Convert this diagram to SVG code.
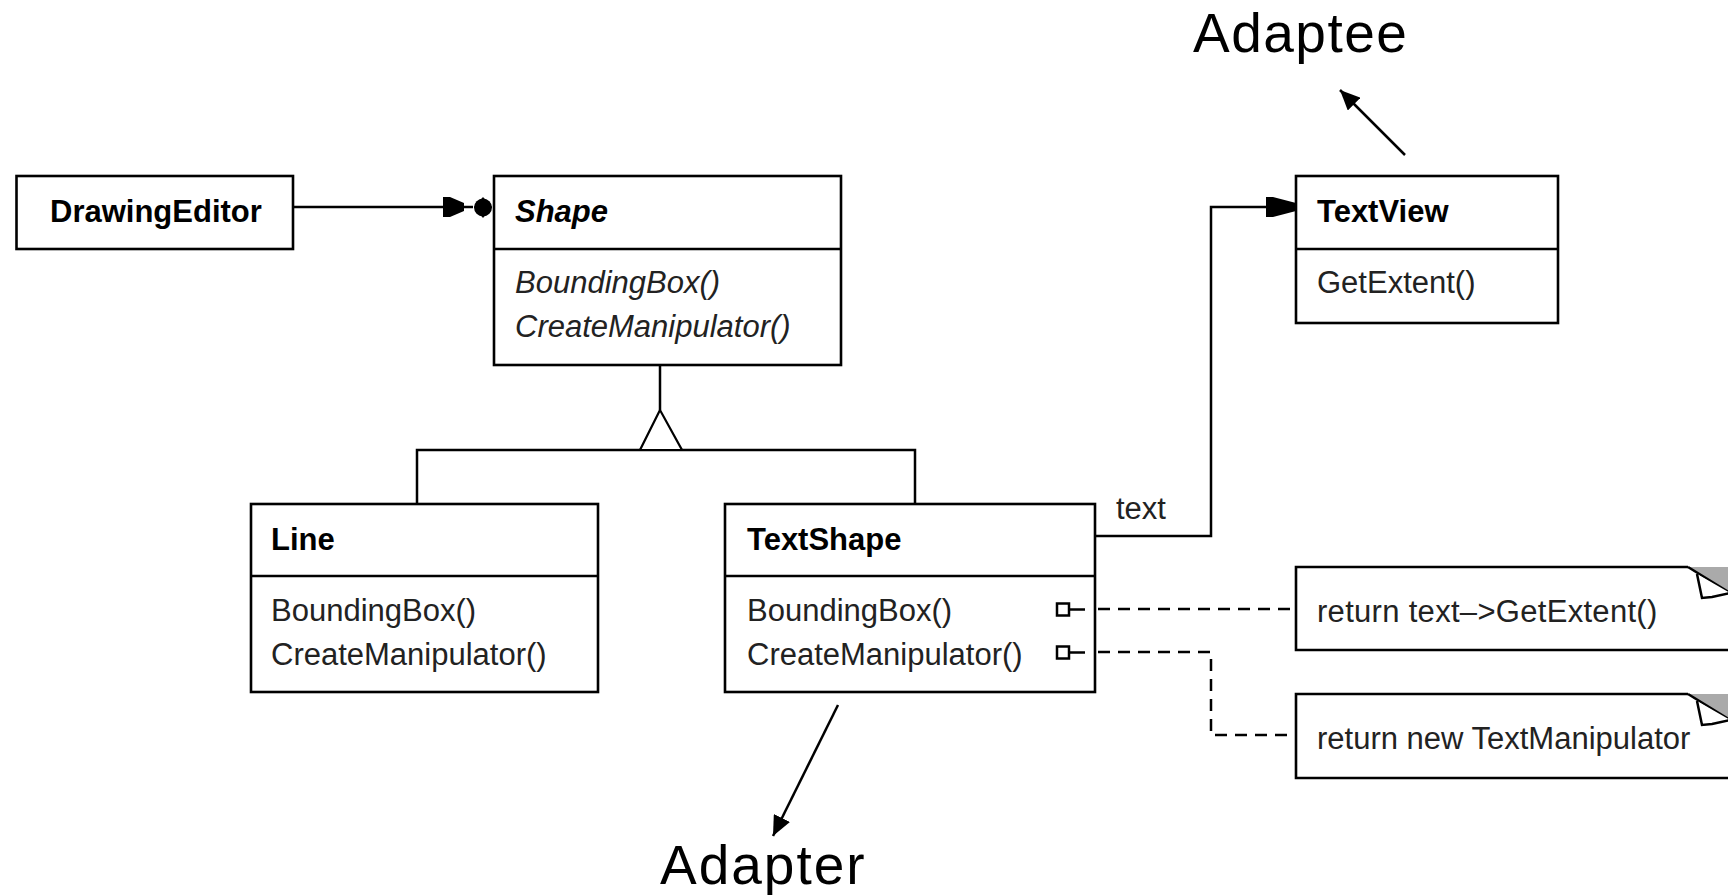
<svg xmlns="http://www.w3.org/2000/svg" width="1728" height="895" viewBox="0 0 1728 895">
<style>
.box{fill:#fff;stroke:#000;stroke-width:2.6}
.ln{fill:none;stroke:#000;stroke-width:2.5}
.dash{fill:none;stroke:#000;stroke-width:2.5;stroke-dasharray:12 8}
.t{font-family:"Liberation Sans",Arial,sans-serif;font-size:31px;fill:#222}
.b{font-weight:bold;fill:#000}
.i{font-style:italic}
.big{font-family:"Liberation Sans",Arial,sans-serif;font-size:55px;fill:#000}
.grey{fill:#aaa;stroke:none}
.flap{fill:#fff;stroke:#000;stroke-width:2.5;stroke-linejoin:miter}
</style>
<defs>
<marker id="ah" markerWidth="22" markerHeight="18" refX="20" refY="9" orient="auto" markerUnits="userSpaceOnUse">
<path d="M0,0 L20,9 L0,18 Z" fill="#000"/>
</marker>
</defs>
<rect width="1728" height="895" fill="#fff"/>

<g id="DrawingEditor">
<rect class="box" x="16.5" y="176" width="276.5" height="73"/>
<text class="t b" x="50" y="222">DrawingEditor</text>
</g>

<g id="Shape">
<rect class="box" x="494" y="176" width="347" height="189"/>
<path class="ln" d="M494,249 H841" stroke-width="2.6"/>
<text class="t b i" x="515" y="222">Shape</text>
<text class="t i" x="515" y="293">BoundingBox()</text>
<text class="t i" x="515" y="337">CreateManipulator()</text>
</g>

<g id="Line">
<rect class="box" x="251" y="504" width="347" height="188"/>
<path class="ln" d="M251,576 H598" stroke-width="2.6"/>
<text class="t b" x="271" y="550">Line</text>
<text class="t" x="271" y="621">BoundingBox()</text>
<text class="t" x="271" y="665">CreateManipulator()</text>
</g>

<g id="TextShape">
<rect class="box" x="725" y="504" width="370" height="188"/>
<path class="ln" d="M725,576 H1095" stroke-width="2.6"/>
<text class="t b" x="747" y="550">TextShape</text>
<text class="t" x="747" y="621">BoundingBox()</text>
<text class="t" x="747" y="665">CreateManipulator()</text>
</g>

<g id="TextView">
<rect class="box" x="1296" y="176" width="262" height="147"/>
<path class="ln" d="M1296,249 H1558" stroke-width="2.6"/>
<text class="t b" x="1317" y="222">TextView</text>
<text class="t" x="1317" y="293">GetExtent()</text>
</g>

<g id="Note1">
<path class="box" d="M1730,650 H1296 V567 H1688"/>
<path class="grey" d="M1688,567 H1730 V593 Z"/>
<path class="ln" d="M1688,567 L1730,593"/>
<path class="flap" d="M1697,574 L1702,598 L1712,597 L1730,593"/>
<text class="t" x="1317" y="622" letter-spacing="0.3">return text–&gt;GetExtent()</text>
</g>

<g id="Note2">
<path class="box" d="M1730,778 H1296 V694 H1688"/>
<path class="grey" d="M1688,694 H1730 V720 Z"/>
<path class="ln" d="M1688,694 L1730,720"/>
<path class="flap" d="M1697,701 L1702,725 L1712,724 L1730,720"/>
<text class="t" x="1317" y="749">return new TextManipulator</text>
</g>

<g id="Adaptee">
<text class="big" x="1193" y="52" letter-spacing="1.5">Adaptee</text>
</g>
<g id="Adapter">
<text class="big" x="660" y="884" letter-spacing="2">Adapter</text>
</g>

<g id="connectors">
<!-- DrawingEditor -> Shape -->
<path class="ln" d="M293,207 H473"/>
<path d="M443,197 L450,197 L464,203 L464,211 L450,217 L443,217 Z" fill="#000"/>
<path d="M483,197 L492,207 L483,218 L474,207 Z" fill="#000"/>
<circle cx="483" cy="207.5" r="9" fill="#000"/>
<!-- inheritance -->
<path class="ln" d="M660,365 V410"/>
<path class="ln" d="M417,504 V450 H915 V504"/>
<path d="M660,410 L640,450 L682,450 Z" fill="#fff" stroke="#000" stroke-width="2.2"/>
<!-- TextShape -> TextView -->
<path class="ln" d="M1095,536 H1211 V207 H1268"/>
<path d="M1266,197 L1273,197 L1296,203 L1296,211 L1273,217 L1266,217 Z" fill="#000"/>
<text class="t" x="1116" y="519">text</text>
<!-- method annotations -->
<rect x="1057" y="603.5" width="12" height="12" fill="#fff" stroke="#000" stroke-width="2.5"/>
<path class="ln" d="M1069,609.5 H1085"/>
<rect x="1057" y="646.5" width="12" height="12" fill="#fff" stroke="#000" stroke-width="2.5"/>
<path class="ln" d="M1069,652.5 H1085"/>
<path class="dash" d="M1098,609 H1296"/>
<path class="dash" d="M1098,652 H1211 V735 H1296"/>
<!-- Adaptee / Adapter pointers -->
<path class="ln" d="M1405,155 L1340,90" stroke-width="2.2" marker-end="url(#ah)"/>
<path class="ln" d="M838,705 L773,836" stroke-width="2.2" marker-end="url(#ah)"/>
</g>
</svg>
